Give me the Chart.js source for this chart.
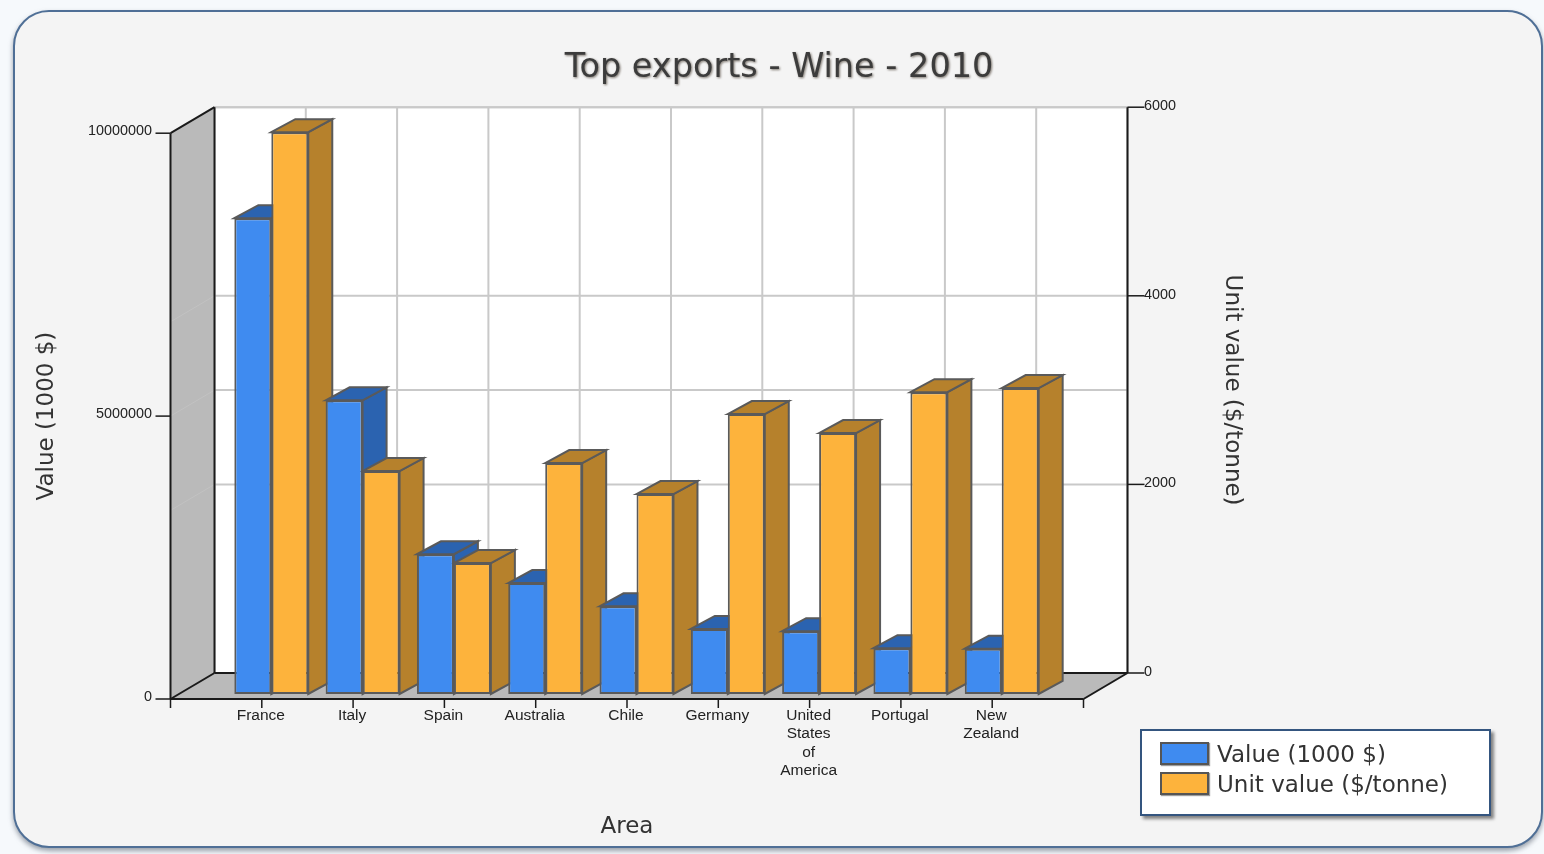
<!DOCTYPE html>
<html>
<head>
<meta charset="utf-8">
<title>Top exports - Wine - 2010</title>
<script src="https://cdn.jsdelivr.net/npm/chart.js@4"></script>
<style>
  html, body { margin: 0; padding: 0; width: 1544px; height: 854px; overflow: hidden; background: #f6f9fc; }
  .card {
    position: absolute; left: 13px; top: 10px; width: 1526px; height: 834px;
    border: 2px solid #4f6f96; border-radius: 36px; background: #f4f4f4;
    box-shadow: 0 3px 5px rgba(90, 100, 115, 0.6);
  }
  canvas { position: absolute; left: 0; top: 0; }
  .legend {
    position: absolute; left: 1140px; top: 729px; width: 347px; height: 83px;
    border: 2px solid #34557f; background: #fff;
    box-shadow: 3px 3px 3px rgba(70, 70, 70, 0.65);
    font: 23px "DejaVu Sans", sans-serif; color: #333;
  }
  .legend div { position: absolute; left: 18px; height: 30px; line-height: 30px; white-space: nowrap; }
  .legend i {
    display: inline-block; width: 45px; height: 19px; margin-right: 8px; vertical-align: -3px;
    border: 2px solid #555; box-shadow: 1px 1px 1px rgba(60, 60, 60, 0.5);
  }
</style>
</head>
<body>
<div class="card"></div>
<canvas id="wineChart" width="1544" height="854"></canvas>
<div class="legend" id="legend"></div>
<script>
const categories = ["France", "Italy", "Spain", "Australia", "Chile", "Germany",
  ["United", "States", "of", "America"], "Portugal", ["New", "Zealand"]];
const exportValues = [8410000, 5190000, 2470000, 1960000, 1550000, 1150000, 1110000, 810000, 800000];
const unitValues = [5958, 2364, 1389, 2449, 2120, 2968, 2767, 3201, 3244];
const valueTicks = [0, 5000000, 10000000];
const unitTicks = [0, 2000, 4000, 6000];

const chartTitle = "Top exports - Wine - 2010";
const valueLabel = "Value (1000 $)";
const unitLabel = "Unit value ($/tonne)";
const areaLabel = "Area";

const BLUE = "#3f8bf0", BLUE_DARK = "#2b63b0";
const ORANGE = "#fdb33c", ORANGE_DARK = "#b6812c";
const WALL = "#bababa", GRID = "#c9c9c9", INK = "#1a1a1a", EDGE = "#5a5a5a";

// the bars stand between a front plane and a back plane, offsets in px from the bars
const FRONT = { x: -9.5, y: 5 };
const BACK = { x: 34.5, y: -21 };
const BAR_DEPTH = { x: 24, y: -13 };

function poly(ctx, pts, fill, stroke, width) {
  ctx.beginPath();
  pts.forEach((p, i) => i ? ctx.lineTo(p[0], p[1]) : ctx.moveTo(p[0], p[1]));
  ctx.closePath();
  if (fill) { ctx.fillStyle = fill; ctx.fill(); }
  if (stroke) { ctx.strokeStyle = stroke; ctx.lineWidth = width; ctx.stroke(); }
}

function line(ctx, x1, y1, x2, y2, color, width) {
  ctx.beginPath();
  ctx.moveTo(x1, y1);
  ctx.lineTo(x2, y2);
  ctx.strokeStyle = color;
  ctx.lineWidth = width;
  ctx.stroke();
}

const box3d = {
  id: "box3d",
  beforeDraw(chart) {
    // soft copy under the title text
    const { ctx } = chart;
    ctx.save();
    ctx.filter = "blur(1px)";
    ctx.font = '33.5px "DejaVu Sans"';
    ctx.fillStyle = "rgba(90, 80, 70, 0.75)";
    ctx.textAlign = "center";
    ctx.textBaseline = "middle";
    ctx.fillText(chartTitle, 780, 69);
    ctx.restore();
  },
  beforeDatasetsDraw(chart) {
    const { ctx, chartArea: a, scales } = chart;
    const fl = a.left + FRONT.x, fr = a.right + FRONT.x, fb = a.bottom + FRONT.y, ft = a.top + FRONT.y;
    const bl = a.left + BACK.x, br = a.right + BACK.x, bb = a.bottom + BACK.y, bt = a.top + BACK.y;
    ctx.save();

    // back wall and its grid
    ctx.fillStyle = "#fff";
    ctx.fillRect(bl, bt, br - bl, bb - bt);
    scales.x.ticks.forEach((t, i) => {
      const x = scales.x.getPixelForTick(i) + BACK.x;
      line(ctx, x, bt, x, bb, GRID, 2);
    });
    valueTicks.forEach(v => {
      const y = scales.y.getPixelForValue(v) + BACK.y;
      line(ctx, bl, y, br, y, GRID, 2);
    });
    unitTicks.forEach(v => {
      const y = scales.y1.getPixelForValue(v) + BACK.y;
      line(ctx, bl, y, br, y, GRID, 2);
    });

    // left wall and floor
    poly(ctx, [[fl, ft], [bl, bt], [bl, bb], [fl, fb]], WALL);
    [valueTicks[1], unitTicks[1], unitTicks[2]].forEach((v, i) => {
      const s = i ? scales.y1 : scales.y;
      const y = s.getPixelForValue(v);
      line(ctx, fl, y + FRONT.y, bl, y + BACK.y, "#c2c2c2", 1);
    });
    poly(ctx, [[fl, fb], [bl, bb], [br, bb], [fr, fb]], WALL);

    // frame and axis ticks
    line(ctx, fl, ft, bl, bt, INK, 2);
    line(ctx, fl, ft, fl, fb, INK, 2);
    line(ctx, bl, bt, bl, bb, INK, 2);
    line(ctx, fl, fb, bl, bb, INK, 2);
    line(ctx, bl, bb, br, bb, INK, 2);
    line(ctx, fl, fb, fr, fb, INK, 2);
    line(ctx, fr, fb, br, bb, INK, 2);
    line(ctx, br, bt, br, bb, INK, 2);
    valueTicks.forEach(v => {
      const y = scales.y.getPixelForValue(v) + FRONT.y;
      line(ctx, fl - 15, y, fl, y, INK, 1.5);
    });
    unitTicks.forEach(v => {
      const y = scales.y1.getPixelForValue(v) + BACK.y;
      line(ctx, br, y, br + 17, y, INK, 1.5);
    });
    scales.x.ticks.forEach((t, i) => {
      const x = scales.x.getPixelForTick(i) + FRONT.x;
      line(ctx, x, fb, x, fb + 9, INK, 1.5);
    });

    // top and side faces of the bars, left to right; the fronts go over them afterwards
    const blue = chart.getDatasetMeta(0).data, orange = chart.getDatasetMeta(1).data;
    blue.forEach((b, i) => {
      if (i === 0 || i === blue.length - 1) return; // empty end slots
      [[b, BLUE_DARK], [orange[i], ORANGE_DARK]].forEach(([bar, shade]) => {
        const l = bar.x - bar.width / 2, r = bar.x + bar.width / 2, dx = BAR_DEPTH.x, dy = BAR_DEPTH.y;
        poly(ctx, [[r, bar.y], [r + dx, bar.y + dy], [r + dx, bar.base + dy], [r, bar.base]], shade, EDGE, 2);
        poly(ctx, [[l, bar.y], [l + dx, bar.y + dy], [r + dx, bar.y + dy], [r, bar.y]], shade, EDGE, 2);
      });
    });
    ctx.restore();
  },
  afterDraw(chart) {
    const { ctx, chartArea: a } = chart;
    const axisTitle = (text, x, y, angle) => {
      ctx.save();
      ctx.translate(x, y);
      ctx.rotate(angle);
      ctx.font = '23px "DejaVu Sans"';
      ctx.fillStyle = "#333";
      ctx.textAlign = "center";
      ctx.textBaseline = "middle";
      ctx.fillText(text, 0, 0);
      ctx.restore();
    };
    axisTitle(valueLabel, 47, (a.top + a.bottom) / 2 + FRONT.y, -Math.PI / 2);
    axisTitle(unitLabel, 1232, (a.top + a.bottom) / 2 + BACK.y, Math.PI / 2);
    axisTitle(areaLabel, (a.left + a.right) / 2 + FRONT.x, 827, 0);
  }
};

const xTickFont = { family: '"Liberation Sans"', size: 15.5, lineHeight: 1.17 };
const yTickFont = { family: '"Liberation Sans"', size: 14.4, lineHeight: 1.2 };

const wineChart = new Chart(document.getElementById("wineChart"), {
  type: "bar",
  plugins: [box3d],
  data: {
    // one empty slot either side so the nine groups sit on the inner ticks
    labels: ["", ...categories, ""],
    datasets: [
      { label: valueLabel, data: [null, ...exportValues, null], yAxisID: "y",
        backgroundColor: BLUE, borderColor: EDGE, borderWidth: 2, borderSkipped: false },
      { label: unitLabel, data: [null, ...unitValues, null], yAxisID: "y1",
        backgroundColor: ORANGE, borderColor: EDGE, borderWidth: 2, borderSkipped: false }
    ]
  },
  options: {
    responsive: false,
    animation: false,
    layout: { autoPadding: false, padding: { left: 14 } },
    categoryPercentage: 0.81,
    barPercentage: 1,
    plugins: {
      legend: { display: false },
      tooltip: { enabled: false },
      title: {
        display: true,
        text: chartTitle,
        color: "#3c3c3c",
        font: { family: '"DejaVu Sans"', size: 33.5, weight: "normal", lineHeight: 1.2 },
        padding: { top: 48, bottom: 40 }
      }
    },
    scales: {
      x: {
        offset: false,
        grid: { display: false, drawTicks: false },
        border: { display: false },
        afterFit(s) { s.height = 160; },
        ticks: { autoSkip: false, maxRotation: 0, minRotation: 0, padding: 13, labelOffset: FRONT.x - 1, color: "#222", font: xTickFont }
      },
      y: {
        position: "left",
        min: 0, max: 10000000,
        grid: { display: false, drawTicks: false },
        border: { display: false },
        afterFit(s) { s.width = 166; },
        afterBuildTicks(s) { s.ticks = valueTicks.map(value => ({ value })); },
        ticks: { padding: 28, labelOffset: 3, color: "#222", font: yTickFont, callback: v => String(v) }
      },
      y1: {
        position: "right",
        min: 0, max: 6000,
        grid: { display: false, drawTicks: false },
        border: { display: false },
        afterFit(s) { s.width = 451; },
        afterBuildTicks(s) { s.ticks = unitTicks.map(value => ({ value })); },
        ticks: { padding: 51, labelOffset: -22, color: "#222", font: yTickFont, callback: v => String(v) }
      }
    }
  }
});

// legend box filled in from the chart's own datasets
document.getElementById("legend").innerHTML = wineChart.data.datasets.map((d, i) =>
  `<div style="top:${8 + i * 30}px"><i style="background:${d.backgroundColor}"></i>${d.label}</div>`
).join("");
</script>
</body>
</html>
